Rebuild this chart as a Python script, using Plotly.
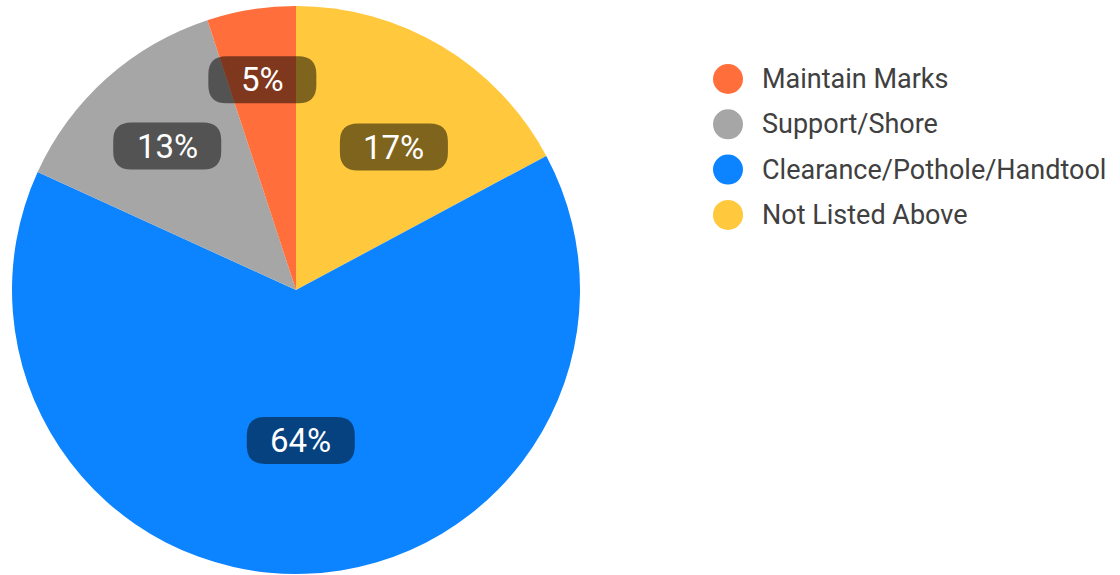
import math
import plotly.graph_objects as go

# ---- data ----
categories = ["Maintain Marks", "Support/Shore", "Clearance/Pothole/Handtool", "Not Listed Above"]
values = [5, 13, 64, 17]
label_texts = ["5%", "13%", "64%", "17%"]

# ---- style ----
colors = ["#FF6E3B", "#A6A6A6", "#0C84FF", "#FFC83D"]
label_radial = [0.75, 0.68, 0.53, 0.61]
label_angle_shift = [0, 0, 0, -3.5]   # degrees, small placement tweaks
W, H = 1120, 575
cx_px, cy_px, r_px = 296, 290, 284
font_family = "Roboto, 'DejaVu Sans', sans-serif"

fig = go.Figure()
# slices run counterclockwise from 12 o'clock in category order;
# drawn clockwise with the order reversed to get that layout
fig.add_trace(go.Pie(
    labels=categories[::-1],
    values=values[::-1],
    sort=False,
    direction="clockwise",
    rotation=0,
    marker=dict(colors=colors[::-1], line=dict(width=0)),
    textinfo="none",
    hoverinfo="label+percent",
    showlegend=False,
    domain=dict(x=[(cx_px - r_px) / W, (cx_px + r_px) / W],
                y=[1 - (cy_px + r_px) / H, 1 - (cy_px - r_px) / H]),
))

# data labels with rounded dark boxes, positioned at each slice's mid-angle
total = sum(values)
cum = 0.0
shapes = []
annotations = []
bw, bh, rr = 108, 47, 18
hw, hh = bw / 2, bh / 2
box_path = (f"M {-hw+rr},{-hh} L {hw-rr},{-hh} Q {hw},{-hh} {hw},{-hh+rr} "
            f"L {hw},{hh-rr} Q {hw},{hh} {hw-rr},{hh} L {-hw+rr},{hh} "
            f"Q {-hw},{hh} {-hw},{hh-rr} L {-hw},{-hh+rr} Q {-hw},{-hh} {-hw+rr},{-hh} Z")
for v, t, f, da in zip(values, label_texts, label_radial, label_angle_shift):
    mid = (cum + v / 2) / total * 2 * math.pi + math.radians(da)
    cum += v
    px = cx_px - f * r_px * math.sin(mid)
    py = cy_px - f * r_px * math.cos(mid)
    xa, ya = px / W, 1 - py / H
    shapes.append(dict(type="path", xref="paper", yref="paper",
                       xsizemode="pixel", ysizemode="pixel",
                       xanchor=xa, yanchor=ya, path=box_path,
                       fillcolor="rgba(0,0,0,0.5)", line=dict(width=0)))
    annotations.append(dict(x=xa, y=ya, xref="paper", yref="paper",
                            text=t, showarrow=False,
                            font=dict(family=font_family, size=33, color="white"),
                            xanchor="center", yanchor="middle"))

# legend with circular markers
leg_x_marker, leg_x_text = 728, 760
leg_y0, leg_dy, leg_r = 79, 45.3, 15
for i, (name, col) in enumerate(zip(categories, colors)):
    y = leg_y0 + i * leg_dy
    shapes.append(dict(type="circle", xref="paper", yref="paper",
                       x0=(leg_x_marker - leg_r) / W, x1=(leg_x_marker + leg_r) / W,
                       y0=1 - (y + leg_r) / H, y1=1 - (y - leg_r) / H,
                       fillcolor=col, line=dict(width=0)))
    annotations.append(dict(x=leg_x_text / W, y=1 - y / H, xref="paper", yref="paper",
                            text=name, showarrow=False,
                            font=dict(family=font_family, size=27, color="#404040"),
                            xanchor="left", yanchor="middle"))

fig.update_layout(
    width=W, height=H,
    margin=dict(l=0, r=0, t=0, b=0),
    paper_bgcolor="white",
    plot_bgcolor="white",
    shapes=shapes,
    annotations=annotations,
    showlegend=False,
)

fig.write_html("out.html", config={"displayModeBar": False},
               post_script="document.body.style.margin='0';")
